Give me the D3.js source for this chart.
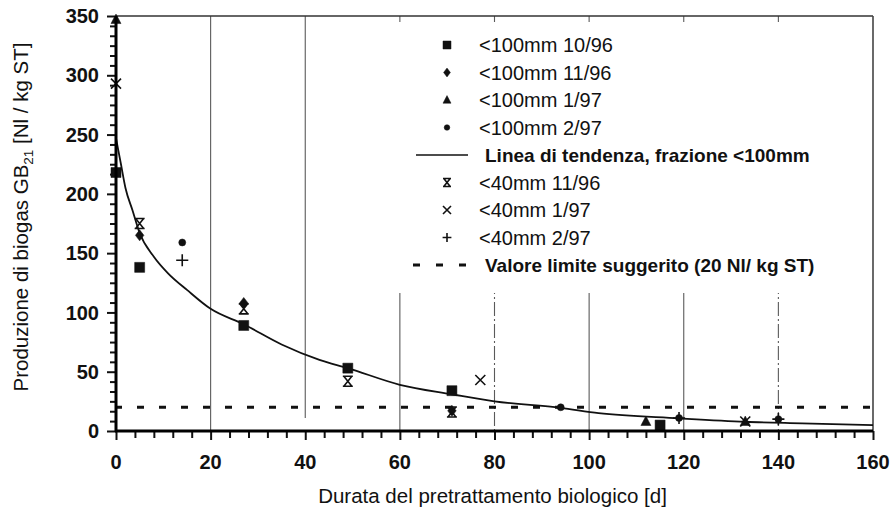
<!DOCTYPE html>
<html><head><meta charset="utf-8">
<script src="https://cdn.jsdelivr.net/npm/d3@7"></script>
<style>
body{margin:0;background:#fff}
svg{display:block}
text{font-family:"Liberation Sans",Arial,Helvetica,sans-serif;fill:#111}
</style>
</head><body>
<svg id="c" width="896" height="508"></svg>
<script>
// ---------- data ----------
const xTickValues = [0,20,40,60,80,100,120,140,160];
const yTickValues = [0,50,100,150,200,250,300,350];
const gridValues  = [20,40,60,80,100,120,140];
const limitValue  = 20;

const sq1096   = [[0,218],[5,138],[27,89],[49,53],[71,34],[115,5]];
const dia1196  = [[0,218],[5,165],[27,108],[71,17]];
const tri197   = [[0,347],[112,8],[133,8]];
const dot297   = [[14,159],[94,20],[119,11],[140,10]];
const hg1196   = [[5,175],[27,103],[49,42],[71,16]];
const x197     = [[0,293],[77,43],[133,8]];
const plus297  = [[14,144],[119,11],[140,10]];

const trendX = [0,1,2,3.5,5,8,11,15,20,27,35,43,49,60,71,80,94,102,119,133,145,160];
const trendY = [247,226,205,186,167,147,133,119,103,90,73,60,53,39,31,25,19.5,15,10.7,7.8,6.5,5];

const legendLabels = [
  "<100mm 10/96","<100mm 11/96","<100mm 1/97","<100mm 2/97",
  "Linea di tendenza, frazione <100mm",
  "<40mm 11/96","<40mm 1/97","<40mm 2/97",
  "Valore limite suggerito (20 Nl/ kg ST)"
];
const legendKinds = ["square","diamond","triangle","dot","line","hourglass","times","plus","dash"];

// ---------- layout ----------
const svg = d3.select("#c");
const L = 116, R = 873, T = 16, B = 431;
const x = d3.scaleLinear().domain([0,160]).range([L,R]);
const y = d3.scaleLinear().domain([0,350]).range([B,T]);

// vertical gridlines
svg.append("g").selectAll("line").data(gridValues).join("line")
  .attr("x1", d=>x(d)).attr("x2", d=>x(d))
  .attr("y1", T).attr("y2", d => d===40 ? B-13 : B)
  .attr("stroke", "#5a5a5a").attr("stroke-width", 1.1)
  .attr("stroke-dasharray", d => (d===80||d===140) ? "14,3,2,3" : null);

// top / right frame
svg.append("line").attr("x1",L).attr("x2",R).attr("y1",T).attr("y2",T)
  .attr("stroke","#333").attr("stroke-width",1.6);
svg.append("line").attr("x1",R).attr("x2",R).attr("y1",T).attr("y2",B)
  .attr("stroke","#444").attr("stroke-width",1.6);

// legend background (covers gridlines)
svg.append("rect").attr("x",395).attr("y",22).attr("width",R-2-395).attr("height",271)
  .attr("fill","#fff");

// limit line
svg.append("line").attr("x1",x(0)).attr("x2",x(160)).attr("y1",y(limitValue)).attr("y2",y(limitValue))
  .attr("stroke","#111").attr("stroke-width",3).attr("stroke-dasharray","7,15").attr("stroke-dashoffset",1);

// trend line
const trend = trendX.map((v,i)=>[v,trendY[i]]);
svg.append("path").datum(trend)
  .attr("d", d3.line().x(d=>x(d[0])).y(d=>y(d[1])).curve(d3.curveMonotoneX))
  .attr("fill","none").attr("stroke","#111").attr("stroke-width",1.8);

// marker shapes
function shapePath(kind, s){
  switch(kind){
    case "square": return `M${-s},${-s}H${s}V${s}H${-s}Z`;
    case "diamond": return `M0,${-s*1.1}L${s*0.85},0L0,${s*1.1}L${-s*0.85},0Z`;
    case "triangle": return `M0,${-s*1.1}L${s},${s*0.8}L${-s},${s*0.8}Z`;
    case "dot": return d3.symbol(d3.symbolCircle, Math.PI*(s*0.7)*(s*0.7))();
    case "hourglass": return `M${-s},${-s}H${s}M${-s},${s}H${s}M${-s*0.8},${-s}L${s*0.8},${s}M${s*0.8},${-s}L${-s*0.8},${s}`;
    case "times": return `M${-s},${-s}L${s},${s}M${-s},${s}L${s},${-s}`;
    case "plus": return `M${-s*1.1},0H${s*1.1}M0,${-s*1.1}V${s*1.1}`;
  }
}
const filled = {square:true,diamond:true,triangle:true,dot:true};
function drawSeries(data, kind, s){
  svg.append("g").selectAll("path").data(data).join("path")
    .attr("transform", d=>`translate(${x(d[0])},${y(d[1])})`)
    .attr("d", shapePath(kind, s))
    .attr("fill", filled[kind] ? "#111" : "none")
    .attr("stroke", "#111")
    .attr("stroke-width", filled[kind] ? 0.5 : 1.6);
}
drawSeries(sq1096, "square", 5);
drawSeries(dia1196, "diamond", 5);
drawSeries(tri197, "triangle", 5);
drawSeries(dot297, "dot", 5);
drawSeries(hg1196, "hourglass", 5);
drawSeries(x197, "times", 5);
drawSeries(plus297, "plus", 5.5);

// axes
const xAxis = d3.axisBottom(x).tickValues(d3.range(0,161,4)).tickSize(7).tickFormat("");
const gx = svg.append("g").attr("transform",`translate(0,${B})`).call(xAxis);
gx.select(".domain").remove();
gx.selectAll(".tick line").attr("stroke","#111").attr("stroke-width",2)
  .attr("y2", d => d%20===0 ? 9 : 7);
svg.append("g").selectAll("text").data(xTickValues).join("text")
  .attr("x", d=>x(d)).attr("y", B+38).attr("text-anchor","middle")
  .attr("font-size",20).attr("font-weight","bold").text(d=>d);

const yAxis = d3.axisLeft(y).tickValues(d3.range(0,43).map(i=>i*50/6)).tickSize(6).tickFormat("");
const gy = svg.append("g").attr("transform",`translate(${L},0)`).call(yAxis);
gy.select(".domain").remove();
gy.selectAll(".tick line").attr("stroke","#111").attr("stroke-width",2)
  .attr("x2", (d,i) => i%6===0 ? -9 : -6);
svg.append("g").selectAll("text").data(yTickValues).join("text")
  .attr("x", L-17).attr("y", d=>y(d)).attr("dy","0.36em").attr("text-anchor","end")
  .attr("font-size",20).attr("font-weight","bold").text(d=>d);

svg.append("line").attr("x1",L).attr("x2",L).attr("y1",T).attr("y2",B+1)
  .attr("stroke","#000").attr("stroke-width",3);
svg.append("line").attr("x1",L-1).attr("x2",R).attr("y1",B).attr("y2",B)
  .attr("stroke","#000").attr("stroke-width",3);

// axis titles
svg.append("text").attr("x", (L+R)/2 - 2).attr("y", 503).attr("text-anchor","middle")
  .attr("font-size",20.5).attr("fill","#333").text("Durata del pretrattamento biologico [d]");
const yt = svg.append("text").attr("transform","translate(28,217) rotate(-90)")
  .attr("text-anchor","middle").attr("font-size",20.5).attr("fill","#333");
yt.append("tspan").text("Produzione di biogas GB");
yt.append("tspan").attr("font-size",13.5).attr("dy",5).text("21");
yt.append("tspan").attr("dy",-5).text(" [Nl / kg ST]");

// legend
const lg = svg.append("g");
legendLabels.forEach((lab,i)=>{
  const cy = 45 + i*27.5;
  const kind = legendKinds[i];
  if(kind==="line"){
    lg.append("line").attr("x1",416).attr("x2",468).attr("y1",cy).attr("y2",cy)
      .attr("stroke","#111").attr("stroke-width",1.6);
  } else if(kind==="dash"){
    lg.append("line").attr("x1",413).attr("x2",468).attr("y1",cy).attr("y2",cy)
      .attr("stroke","#111").attr("stroke-width",3).attr("stroke-dasharray","7,16");
  } else {
    lg.append("path").attr("transform",`translate(447,${cy})`)
      .attr("d", shapePath(kind, 4))
      .attr("fill", filled[kind] ? "#111" : "none")
      .attr("stroke","#111").attr("stroke-width", filled[kind]?0.5:1.6);
  }
  const bold = (kind==="line"||kind==="dash");
  lg.append("text").attr("x", bold ? 485 : 479).attr("y", cy).attr("dy","0.36em")
    .attr("font-size", bold ? 19 : 20).attr("font-weight", bold ? "bold" : "normal")
    .text(lab);
});
</script>
</body></html>
